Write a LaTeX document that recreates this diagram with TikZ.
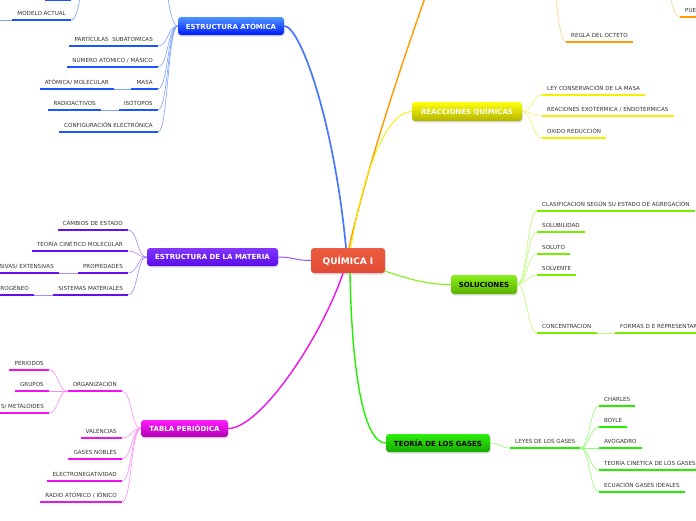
\documentclass[tikz,border=0pt]{standalone}
\usepackage{fontspec}
\setmainfont{DejaVu Sans}
\usetikzlibrary{positioning,calc,shadows}

\definecolor{txt}{HTML}{333333}
\definecolor{blueA}{HTML}{1A55FF}
\definecolor{blueL}{HTML}{7FA0FF}
\definecolor{violA}{HTML}{6610F2}
\definecolor{violL}{HTML}{A688FF}
\definecolor{magA}{HTML}{F010F0}
\definecolor{magL}{HTML}{FF88FF}
\definecolor{yelA}{HTML}{F2F200}
\definecolor{yelL}{HTML}{F0F060}
\definecolor{limeA}{HTML}{7AEE00}
\definecolor{limeL}{HTML}{B8FF70}
\definecolor{grnA}{HTML}{22EE00}
\definecolor{grnL}{HTML}{90FF70}
\definecolor{oraA}{HTML}{FF9900}
\definecolor{oraL}{HTML}{FFCC88}
\definecolor{quimT}{HTML}{EC5B40}
\definecolor{quimB}{HTML}{E04C33}
\definecolor{violT}{HTML}{8236FF}
\definecolor{violB}{HTML}{5A0CE6}

\newcommand\lf{\fontsize{5.6}{6.5}\selectfont}

\begin{document}
\begin{tikzpicture}[x=1pt,y=-1pt,
    topic/.style={rounded corners=3pt, inner sep=0pt, minimum height=18pt,
      font=\bfseries\fontsize{7}{8}\selectfont, text=white,
      drop shadow={opacity=0.25,shadow xshift=0.6pt,shadow yshift=-1.5pt}},
    leaf/.style={font=\lf, text=txt, inner xsep=5pt, inner ysep=1pt,
      text height=4.5pt, text depth=3.4pt,
      append after command={(\tikzlastnode.south west) edge[draw=#1,line width=2.7pt] (\tikzlastnode.south east)}},
    branch/.style={to path={.. controls +(#1,0) and +(-#1,0) .. (\tikztotarget)}} ]
    \tikzset{main/.style={line width=1.4pt}, twig/.style={line width=0.6pt}}
    \useasboundingbox (0,0) rectangle (696,520);
    \clip (0,0) rectangle (696,520);

    % central and main topics
    \node [topic, minimum width=74pt, minimum height=25pt, top color=quimT, bottom color=quimB, font=\bfseries\fontsize{9}{10}\selectfont] (quim) at (348,260.5) {QUÍMICA I};
    \node [topic, minimum width=106pt, top color=blue!60!cyan!70!white, bottom color=blue!90!cyan] (atom) at (231,26) {ESTRUCTURA ATÓMICA};
    \node [topic, minimum width=131pt, top color=violT, bottom color=violB] (mat) at (212.5,257) {ESTRUCTURA DE LA MATERIA};
    \node [topic, minimum width=87pt, minimum height=17pt, top color=magenta!90!white, bottom color=magenta!70!black] (tabla) at (184.5,428.5) {TABLA PERIÓDICA};
    \node [topic, minimum width=110pt, minimum height=19pt, top color=yellow!95!white, bottom color=yellow!70!black] (reac) at (467,111.5) {REACCIONES QUÍMICAS};
    \node [topic, minimum width=66pt, minimum height=19pt, top color=limeA!90!white, bottom color=limeA!75!black, text=black] (sol) at (484,284.5) {SOLUCIONES};
    \node [topic, minimum width=104pt, top color=grnA!95!white, bottom color=grnA!70!black, text=black] (gases) at (438,443) {TEORÍA DE LOS GASES};
    \coordinate (orw) at (440,-45);
    \coordinate (ore) at (546,-45);

    \draw [main, blueA!80!white, line width=1.7pt] ([xshift=-2pt]quim.north) .. controls +(-12,-127) and +(16,0) .. (atom.east);
    \draw [main, oraA] ([xshift=1pt]quim.north) .. controls +(22,-97) and +(-30,85) .. (orw);
    \draw [main, yelA, line width=0.9pt] ([xshift=3pt]quim.north) .. controls +(10,-67) and +(-27,0) .. (reac.west);
    \draw [main, violA!70!white, line width=1pt] (quim.west) .. controls +(-15,0) and +(15,0) .. (mat.east);
    \draw [main, limeA, line width=1pt] ([yshift=2pt]quim.south east) .. controls +(25,8) and +(-25,0) .. (sol.west);
    \draw [main, grnA] ([xshift=2pt]quim.south) .. controls +(2,106) and +(-21,0) .. (gases.west);
    \draw [main, magA] ([xshift=-5pt]quim.south) .. controls +(-22,65) and +(32,0) .. (tabla.east);

    % estructura atomica
    \node [leaf=blueA, anchor=south east] (a0) at (71,20) {MODELO ACTUAL};
    \node [leaf=blueA, anchor=south east] (a1) at (158,46) {PARTÍCULAS\ \ SUBÁTOMICAS};
    \node [leaf=blueA, anchor=south east] (a2) at (158,67) {NÚMERO ATÓMICO / MÁSICO};
    \node [leaf=blueA, anchor=south east] (a3) at (158,89) {MASA};
    \node [leaf=blueA, anchor=south east] (a3s) at (114,89) {ATÓMICA/ MOLECULAR};
    \node [leaf=blueA, anchor=south east] (a4) at (158,110) {ISÓTOPOS};
    \node [leaf=blueA, anchor=south east] (a4s) at (101,110) {RADIOACTIVOS};
    \node [leaf=blueA, anchor=south east] (a5) at (158,132) {CONFIGURACIÓN ELECTRÓNICA};
    \coordinate (modr) at (158,-30);
    \coordinate (modl) at (90,-30);
    \coordinate (t0l) at (45,0);
    \coordinate (t0r) at (71,0);
    \coordinate (a0x) at (-20,20);
    \draw [blueA, line width=2.7pt] (t0l) -- (t0r);
    \foreach \n in {a1,a2,a3,a4,a5}
      \draw [twig, blueL] (atom.west) to[branch=-10] (\n.south east);
    \draw [twig, blueL] (atom.west) to[branch=-10] (modr);
    \draw [twig, blueL] (modl) to[branch=-10] (a0.south east);
    \draw [twig, blueL] (modl) to[branch=-10] (t0r);
    \draw [twig, blueL] (a0.south west) -- (a0x);
    \draw [twig, blueL] (a3.south west) -- (a3s.south east);
    \draw [twig, blueL] (a4.south west) -- (a4s.south east);

    % estructura de la materia
    \node [leaf=violA, anchor=south east] (m1) at (128,230) {CAMBIOS DE ESTADO};
    \node [leaf=violA, anchor=south east] (m2) at (128,251) {TEORÍA CINÉTICO MOLECÚLAR};
    \node [leaf=violA, anchor=south east] (m3) at (128,273) {PROPIEDADES};
    \node [leaf=violA, anchor=south east] (m3s) at (59,273) {SIVAS/ EXTENSIVAS};
    \node [leaf=violA, anchor=south east] (m4) at (128,295) {SISTEMAS MATERIALES};
    \node [leaf=violA, anchor=south east] (m4s) at (34,295) {ROGÉNEO};
    \foreach \n in {m1,m2,m3,m4}
      \draw [twig, violL] (mat.west) to[branch=-10] (\n.south east);
    \draw [twig, violL] (m3.south west) -- (m3s.south east);
    \draw [twig, violL] (m4.south west) -- (m4s.south east);

    % tabla periodica
    \node [leaf=magA, anchor=south east] (t1) at (122,391) {ORGANIZACIÓN};
    \node [leaf=magA, anchor=south east] (t1a) at (49,370) {PERIODOS};
    \node [leaf=magA, anchor=south east] (t1b) at (49,391) {GRUPOS};
    \node [leaf=magA, anchor=south east] (t1c) at (49,413) {S/ METALOIDES};
    \node [leaf=magA, anchor=south east] (t2) at (122,438) {VALENCIAS};
    \node [leaf=magA, anchor=south east] (t3) at (122,459) {GASES NOBLES};
    \node [leaf=magA, anchor=south east] (t4) at (122,481) {ELECTRONEGATIVIDAD};
    \node [leaf=magA, anchor=south east] (t5) at (122,502) {RADIO ATÓMICO / IÓNICO};
    \foreach \n in {t1,t2,t3,t4,t5}
      \draw [twig, magL] (tabla.west) to[branch=-10] (\n.south east);
    \foreach \n in {t1a,t1b,t1c}
      \draw [twig, magL] (t1.south west) to[branch=-10] (\n.south east);

    % reacciones quimicas
    \node [leaf=yelA, anchor=south west] (r1) at (542,95) {LEY CONSERVACIÓN DE LA MASA};
    \node [leaf=yelA, anchor=south west] (r2) at (542,116) {REACIONES EXOTERMICA / ENDOTERMICAS};
    \node [leaf=yelA, anchor=south west] (r3) at (542,138) {OXIDO REDUCCIÓN};
    \foreach \n in {r1,r2,r3}
      \draw [twig, yelL] (reac.east) to[branch=10] (\n.south west);

    % union quimica (fuera de la hoja)
    \node [leaf=oraA, anchor=south west] (o1) at (566,42) {REGLA DEL OCTETO};
    \node [leaf=oraA, anchor=south west] (o2) at (680,17) {PUE};
    \coordinate (o2p) at (660,-25);
    \draw [twig, oraL] (ore) to[branch=10] (o1.south west);
    \draw [twig, oraL] (o2p) to[branch=10] (o2.south west);

    % soluciones
    \node [leaf=limeA, anchor=south west] (s1) at (537,211) {CLASIFICACION SEGÚN SU ESTADO DE AGREGACIÓN};
    \node [leaf=limeA, anchor=south west] (s2) at (537,232) {SOLUBILIDAD};
    \node [leaf=limeA, anchor=south west] (s3) at (537,254) {SOLUTO};
    \node [leaf=limeA, anchor=south west] (s4) at (537,275) {SOLVENTE};
    \node [leaf=limeA, anchor=south west] (s5) at (537,333) {CONCENTRACION};
    \node [leaf=limeA, anchor=south west] (s5s) at (615,333) {FORMAS D E REPRESENTAR};
    \foreach \n in {s1,s2,s3,s4,s5}
      \draw [twig, limeL] (sol.east) to[branch=10] (\n.south west);
    \draw [twig, limeL] (s5.south east) -- (s5s.south west);

    % teoria de los gases
    \node [leaf=grnA, anchor=south west] (g1) at (510,448) {LEYES DE LOS GASES};
    \node [leaf=grnA, anchor=south west] (g1a) at (599,406) {CHARLES};
    \node [leaf=grnA, anchor=south west] (g1b) at (599,427) {BOYLE};
    \node [leaf=grnA, anchor=south west] (g1c) at (599,448) {AVOGADRO};
    \node [leaf=grnA, anchor=south west] (g1d) at (599,470) {TEORÍA CINETICA DE LOS GASES};
    \node [leaf=grnA, anchor=south west] (g1e) at (599,492) {ECUACIÓN GASES IDEALES};
    \draw [twig, grnL] (gases.east) to[branch=10] (g1.south west);
    \foreach \n in {g1a,g1b,g1c,g1d,g1e}
      \draw [twig, grnL] (g1.south east) to[branch=9] (\n.south west);
\end{tikzpicture}
\end{document}
